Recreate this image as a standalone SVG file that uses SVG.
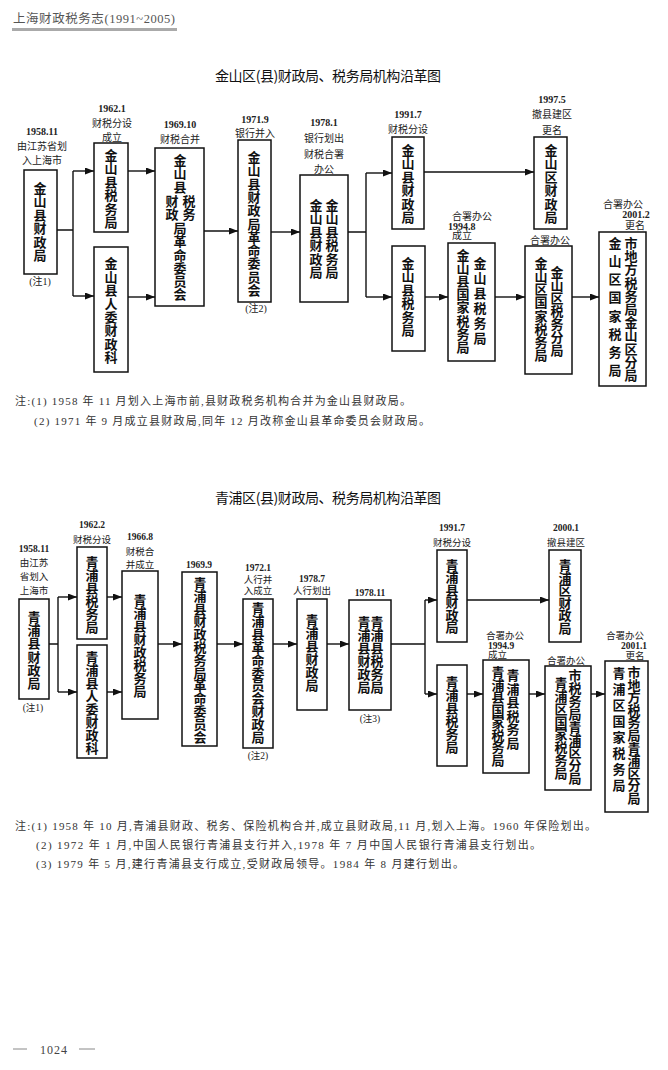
<svg xmlns="http://www.w3.org/2000/svg" width="668" height="1070" viewBox="0 0 668 1070">
<style>
.bx{fill:#fff;stroke:#111;stroke-width:1.5}
.v{font-family:"Noto Sans CJK SC","Noto Sans",sans-serif;font-size:13px;font-weight:700;fill:#111;text-anchor:middle}
.lb{font-family:"Liberation Serif","Noto Sans CJK SC",serif;font-size:10px;fill:#222;text-anchor:middle}
.lbs{font-family:"Liberation Serif","Noto Sans CJK SC",serif;font-size:9.5px;fill:#222;text-anchor:middle}
.dt{font-weight:700}
.st{text-anchor:start}
.ttl{font-family:"Noto Sans CJK SC","Noto Sans",sans-serif;font-size:14px;fill:#111;text-anchor:middle}
.nt{font-family:"Liberation Serif","Noto Sans CJK SC",serif;font-size:11px;fill:#333}
.cn{fill:none;stroke:#111;stroke-width:1.4}
</style>
<defs>
<marker id="ah" markerUnits="userSpaceOnUse" markerWidth="9" markerHeight="7" refX="9" refY="3.5" orient="auto">
<path d="M0,0 L9,3.5 L0,7 z" fill="#111"/>
</marker>
</defs>
<rect width="668" height="1070" fill="#fff"/>

<g id="header">
<text x="13" y="23" font-family="Liberation Serif,'Noto Sans CJK SC',serif" font-size="12.5" fill="#555" textLength="162">上海财政税务志(1991~2005)</text>
<rect x="12" y="28" width="165" height="3" fill="#aaa"/>
</g>

<!-- ===== Top diagram ===== -->
<text class="ttl" x="328" y="81" textLength="226">金山区(县)财政局、税务局机构沿革图</text>

<g id="top-connectors">
<path class="cn" d="M57,230 H73 M73,171 V296"/>
<path class="cn" marker-end="url(#ah)" d="M73,171 H94"/>
<path class="cn" marker-end="url(#ah)" d="M73,296 H94"/>
<path class="cn" marker-end="url(#ah)" d="M128,171 H155"/>
<path class="cn" marker-end="url(#ah)" d="M128,297 H155"/>
<path class="cn" marker-end="url(#ah)" d="M204,231 H238"/>
<path class="cn" marker-end="url(#ah)" d="M271,232 H300"/>
<path class="cn" d="M348,232 H366 M366,173 V297"/>
<path class="cn" marker-end="url(#ah)" d="M366,173 H392"/>
<path class="cn" marker-end="url(#ah)" d="M366,297 H392"/>
<path class="cn" marker-end="url(#ah)" d="M424,172 H534"/>
<path class="cn" marker-end="url(#ah)" d="M425,297 H448"/>
<path class="cn" marker-end="url(#ah)" d="M495,297 H525"/>
<path class="cn" marker-end="url(#ah)" d="M572,297 H599"/>
</g>

<g id="t-a">
<text class="lb dt" x="42" y="135">1958.11</text>
<text class="lb" x="42" y="150">由江苏省划</text>
<text class="lb" x="42" y="164">入上海市</text>
<rect class="bx" x="24" y="170" width="33" height="104"/>
<text class="v" x="40 40 40 40 40 40" y="193 206 220 233 247 260">金山县财政局</text>
<text class="lb" x="40" y="285">(注1)</text>
</g>
<g id="t-b">
<text class="lb dt" x="112" y="112">1962.1</text>
<text class="lb" x="112" y="127">财税分设</text>
<text class="lb" x="112" y="141">成立</text>
<rect class="bx" x="94" y="143" width="34" height="89"/>
<text class="v" x="111 111 111 111 111 111" y="160 173 187 200 214 227">金山县税务局</text>
</g>
<g id="t-c">
<rect class="bx" x="94" y="247" width="34" height="125"/>
<text class="v" x="111 111 111 111 111 111 111 111" y="268 282 295 309 322 335 349 362">金山县人委财政科</text>
</g>
<g id="t-d">
<text class="lb dt" x="180" y="128">1969.10</text>
<text class="lb" x="180" y="143">财税合并</text>
<rect class="bx" x="155" y="148" width="49" height="158"/>
<text class="v" x="180 180 180" y="165 178 192">金山县</text>
<text class="v" x="172 172" y="206 219">财政</text>
<text class="v" x="189 189" y="206 219">税务</text>
<text class="v" x="180 180 180 180 180 180" y="233 246 260 273 286 299">局革命委员会</text>
</g>
<g id="t-e">
<text class="lb dt" x="255" y="123">1971.9</text>
<text class="lb" x="255" y="137">银行并入</text>
<rect class="bx" x="238" y="140" width="33" height="162"/>
<text class="v" x="254 254 254 254 254 254 254 254 254 254 254" y="162 175 189 202 215 229 242 255 268 282 295">金山县财政局革命委员会</text>
<text class="lb" x="256" y="312">(注2)</text>
</g>
<g id="t-f">
<text class="lb dt" x="324" y="126">1978.1</text>
<text class="lb" x="324" y="142">银行划出</text>
<text class="lb" x="324" y="158">财税合署</text>
<text class="lb" x="324" y="173">办公</text>
<rect class="bx" x="300" y="175" width="48" height="127"/>
<text class="v" x="316 316 316 316 316 316" y="210 223 237 250 264 277">金山县财政局</text>
<text class="v" x="332 332 332 332 332 332" y="210 223 237 250 264 277">金山县税务局</text>
</g>
<g id="t-g">
<text class="lb dt" x="408" y="118">1991.7</text>
<text class="lb" x="408" y="133">财税分设</text>
<rect class="bx" x="392" y="137" width="32" height="92"/>
<text class="v" x="408 408 408 408 408 408" y="155 168 182 195 209 222">金山县财政局</text>
</g>
<g id="t-h">
<rect class="bx" x="392" y="246" width="33" height="105"/>
<text class="v" x="408 408 408 408 408 408" y="268 281 295 308 322 335">金山县税务局</text>
</g>
<g id="t-i">
<text class="lb dt" x="552" y="103">1997.5</text>
<text class="lb" x="552" y="118">撤县建区</text>
<text class="lb" x="552" y="134">更名</text>
<rect class="bx" x="534" y="137" width="33" height="92"/>
<text class="v" x="551 551 551 551 551 551" y="155 168 182 195 209 222">金山区财政局</text>
</g>
<g id="t-j">
<text class="lb" x="472" y="220">合署办公</text>
<text class="lb dt st" x="448" y="230">1994.8</text>
<text class="lb st" x="452" y="239">成立</text>
<rect class="bx" x="448" y="243" width="47" height="118"/>
<text class="v" x="463 463 463 463 463 463 463 463" y="260 273 286 299 312 326 339 352">金山县国家税务局</text>
<text class="v" x="480 480 480 480 480 480" y="268 283 298 313 328 343">金山县税务局</text>
</g>
<g id="t-k">
<text class="lb" x="550" y="244">合署办公</text>
<rect class="bx" x="525" y="246" width="47" height="128"/>
<text class="v" x="541 541 541 541 541 541 541 541" y="268 281 294 307 321 334 347 360">金山区国家税务局</text>
<text class="v" x="557 557 557 557 557 557 557" y="277 290 303 316 329 342 355">金山区税务分局</text>
</g>
<g id="t-l">
<text class="lb" x="623" y="208">合署办公</text>
<text class="lb dt" x="636" y="218">2001.2</text>
<text class="lb" x="635" y="229">更名</text>
<rect class="bx" x="599" y="232" width="47" height="154"/>
<text class="v" x="615 615 615 615 615 615 615 615" y="248 266 284 302 321 339 357 375">金山区国家税务局</text>
<text class="v" x="631 631 631 631 631 631 631 631 631 631 631" y="248 261 274 288 301 314 327 340 354 367 380">市地方税务局金山区分局</text>
</g>

<g id="top-notes">
<text class="nt" x="15" y="405" textLength="396">注:(1) 1958 年 11 月划入上海市前,县财政税务机构合并为金山县财政局。</text>
<text class="nt" x="34" y="425" textLength="396">(2) 1971 年 9 月成立县财政局,同年 12 月改称金山县革命委员会财政局。</text>
</g>

<!-- ===== Bottom diagram ===== -->
<text class="ttl" x="328" y="503" textLength="226">青浦区(县)财政局、税务局机构沿革图</text>

<g id="bottom-connectors">
<path class="cn" d="M49,644 H58 M58,597 V692"/>
<path class="cn" marker-end="url(#ah)" d="M58,597 H77"/>
<path class="cn" marker-end="url(#ah)" d="M58,692 H77"/>
<path class="cn" marker-end="url(#ah)" d="M107,597 H122"/>
<path class="cn" marker-end="url(#ah)" d="M107,692 H122"/>
<path class="cn" marker-end="url(#ah)" d="M158,644 H182"/>
<path class="cn" marker-end="url(#ah)" d="M217,644 H243"/>
<path class="cn" marker-end="url(#ah)" d="M273,644 H297"/>
<path class="cn" marker-end="url(#ah)" d="M327,644 H349"/>
<path class="cn" d="M391,644 H425 M425,600 V694"/>
<path class="cn" marker-end="url(#ah)" d="M425,600 H437"/>
<path class="cn" marker-end="url(#ah)" d="M425,694 H437"/>
<path class="cn" marker-end="url(#ah)" d="M467,600 H549"/>
<path class="cn" marker-end="url(#ah)" d="M467,694 H483"/>
<path class="cn" marker-end="url(#ah)" d="M529,694 H545"/>
<path class="cn" marker-end="url(#ah)" d="M591,694 H605"/>
</g>

<g id="b-a">
<text class="lbs dt" x="34" y="552">1958.11</text>
<text class="lbs" x="34" y="566">由江苏</text>
<text class="lbs" x="34" y="580">省划入</text>
<text class="lbs" x="34" y="594">上海市</text>
<rect class="bx" x="19" y="599" width="30" height="100"/>
<text class="v" x="34 34 34 34 34 34" y="622 635 648 662 675 688">青浦县财政局</text>
<text class="lbs" x="33" y="711">(注1)</text>
</g>
<g id="b-b">
<text class="lbs dt" x="92" y="528">1962.2</text>
<text class="lbs" x="92" y="543">财税分设</text>
<rect class="bx" x="77" y="547" width="30" height="92"/>
<text class="v" x="92 92 92 92 92 92" y="567 580 593 606 619 632">青浦县税务局</text>
</g>
<g id="b-c">
<rect class="bx" x="77" y="645" width="30" height="113"/>
<text class="v" x="92 92 92 92 92 92 92 92" y="662 675 688 701 714 727 740 753">青浦县人委财政科</text>
</g>
<g id="b-d">
<text class="lbs dt" x="140" y="540">1966.8</text>
<text class="lbs" x="140" y="555">财税合</text>
<text class="lbs" x="140" y="568">并成立</text>
<rect class="bx" x="122" y="571" width="36" height="148"/>
<text class="v" x="140 140 140 140 140 140 140 140" y="605 618 631 644 657 670 683 696">青浦县财政税务局</text>
</g>
<g id="b-e">
<text class="lbs dt" x="199" y="568">1969.9</text>
<rect class="bx" x="182" y="572" width="35" height="174"/>
<text class="v" x="200 200 200 200 200 200 200 200 200 200 200 200 200" y="588 601 614 626 639 652 665 678 690 703 716 729 742">青浦县财政税务局革命委员会</text>
</g>
<g id="b-f">
<text class="lbs dt" x="258" y="571">1972.1</text>
<text class="lbs" x="258" y="583">人行并</text>
<text class="lbs" x="258" y="594">入成立</text>
<rect class="bx" x="243" y="599" width="30" height="149"/>
<text class="v" x="258 258 258 258 258 258 258 258 258 258 258" y="613 626 639 652 665 678 690 703 716 729 742">青浦县革命委员会财政局</text>
<text class="lbs" x="258" y="759">(注2)</text>
</g>
<g id="b-g">
<text class="lbs dt" x="312" y="582">1978.7</text>
<text class="lbs" x="312" y="594">人行划出</text>
<rect class="bx" x="297" y="599" width="30" height="111"/>
<text class="v" x="312 312 312 312 312 312" y="625 638 651 664 677 690">青浦县财政局</text>
</g>
<g id="b-h">
<text class="lbs dt" x="370" y="596">1978.11</text>
<rect class="bx" x="349" y="600" width="42" height="110"/>
<text class="v" x="364 364 364 364 364 364" y="627 640 653 666 679 692">青浦县财政局</text>
<text class="v" x="377 377 377 377 377 377" y="627 640 653 666 679 692">青浦县税务局</text>
<text class="lbs" x="370" y="722">(注3)</text>
</g>
<g id="b-i">
<text class="lbs dt" x="452" y="531">1991.7</text>
<text class="lbs" x="452" y="546">财税分设</text>
<rect class="bx" x="437" y="550" width="30" height="92"/>
<text class="v" x="452 452 452 452 452 452" y="570 582 595 607 620 632">青浦县财政局</text>
</g>
<g id="b-j">
<rect class="bx" x="437" y="665" width="30" height="101"/>
<text class="v" x="452 452 452 452 452 452" y="687 700 713 726 739 752">青浦县税务局</text>
</g>
<g id="b-k">
<text class="lbs dt" x="566" y="531">2000.1</text>
<text class="lbs" x="566" y="546">撤县建区</text>
<rect class="bx" x="549" y="550" width="32" height="92"/>
<text class="v" x="565 565 565 565 565 565" y="570 583 595 608 620 633">青浦区财政局</text>
</g>
<g id="b-l">
<text class="lbs" x="505" y="639">合署办公</text>
<text class="lbs dt st" x="488" y="649">1994.9</text>
<text class="lbs st" x="488" y="658">成立</text>
<rect class="bx" x="483" y="660" width="46" height="113"/>
<text class="v" x="498 498 498 498 498 498 498 498" y="677 690 702 715 727 740 752 765">青浦县国家税务局</text>
<text class="v" x="513 513 513 513 513 513" y="680 694 707 721 734 748">青浦县税务局</text>
</g>
<g id="b-m">
<text class="lbs" x="566" y="664">合署办公</text>
<rect class="bx" x="545" y="666" width="46" height="124"/>
<text class="v" x="561 561 561 561 561 561 561 561" y="688 701 714 727 739 752 765 778">青浦区国家税务局</text>
<text class="v" x="575 575 575 575 575 575 575 575 575" y="680 693 706 719 732 745 757 770 783">市税务局青浦区分局</text>
</g>
<g id="b-n">
<text class="lbs" x="625" y="639">合署办公</text>
<text class="lbs dt" x="634" y="649">2001.1</text>
<text class="lbs" x="635" y="659">更名</text>
<rect class="bx" x="605" y="661" width="43" height="151"/>
<text class="v" x="619 619 619 619 619 619 619 619" y="678 694 710 726 742 758 774 790">青浦区国家税务局</text>
<text class="v" x="634 634 634 634 634 634 634 634 634 634 634" y="677 690 702 715 727 740 753 765 778 790 803">市地方税务局青浦区分局</text>
</g>

<g id="bottom-notes">
<text class="nt" x="15" y="830" textLength="581">注:(1) 1958 年 10 月,青浦县财政、税务、保险机构合并,成立县财政局,11 月,划入上海。1960 年保险划出。</text>
<text class="nt" x="36" y="849" textLength="505">(2) 1972 年 1 月,中国人民银行青浦县支行并入,1978 年 7 月中国人民银行青浦县支行划出。</text>
<text class="nt" x="36" y="868" textLength="428">(3) 1979 年 5 月,建行青浦县支行成立,受财政局领导。1984 年 8 月建行划出。</text>
</g>

<g id="footer">
<line x1="13" y1="1049" x2="27" y2="1049" stroke="#888" stroke-width="1"/>
<text x="40" y="1054" font-family="Liberation Serif,serif" font-size="12" fill="#444" textLength="27">1024</text>
<line x1="79" y1="1049" x2="95" y2="1049" stroke="#888" stroke-width="1"/>
</g>
</svg>
